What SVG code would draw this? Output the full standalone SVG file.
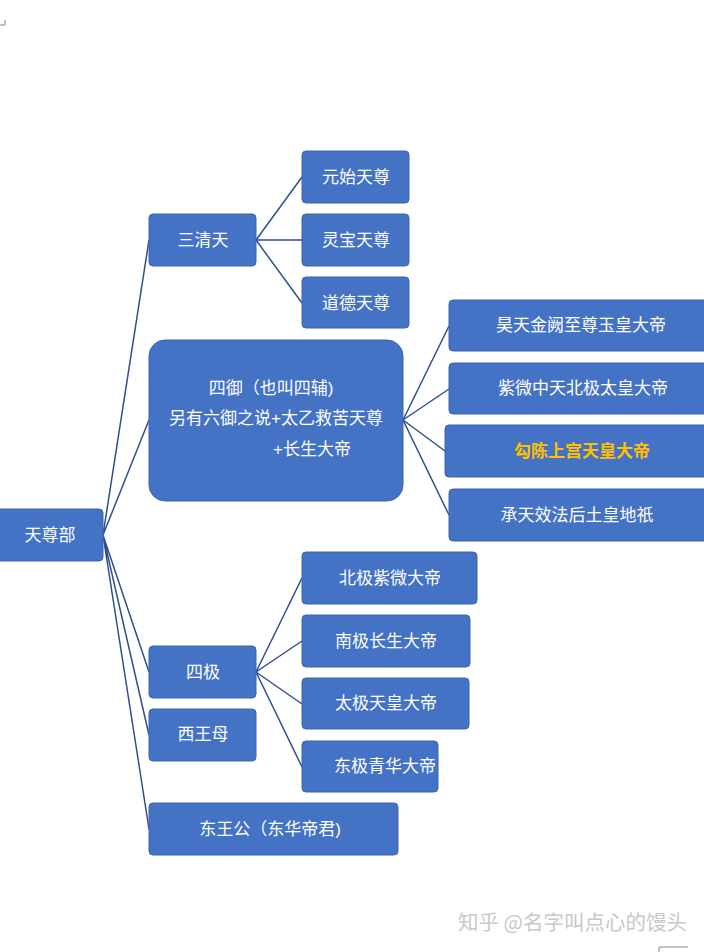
<svg xmlns="http://www.w3.org/2000/svg" width="704" height="952" viewBox="0 0 704 952">
<style>
.n{fill:#4472C4;stroke:#3A64AD;stroke-width:1}
.t{font-family:"Liberation Sans","Noto Sans CJK SC",sans-serif;font-size:17px;fill:#fff;text-anchor:middle;dominant-baseline:central}
.c{stroke:#2F4F8F;stroke-width:1.5;fill:none}
</style>
<rect width="704" height="952" fill="#fff"/>
<g id="connectors">
<path class="c" d="M103 535L149 240M103 535L149 420M103 535L149 672M103 535L149 735M103 535L149 829"/>
<path class="c" d="M256 240L302 177M256 240L302 240M256 240L302 303"/>
<path class="c" d="M403 420L449 326M403 420L449 389M403 420L445 451M403 420L449 515"/>
<path class="c" d="M256 672L302 578M256 672L302 641M256 672L302 704M256 672L302 767"/>
</g>
<g id="n0"><rect class="n" x="-6" y="509" width="109" height="52" rx="4"/><text class="t" x="50" y="535">天尊部</text></g>
<g id="n1"><rect class="n" x="149" y="214" width="107" height="52" rx="4"/><text class="t" x="203" y="240">三清天</text></g>
<g id="n2"><rect class="n" x="302" y="151" width="107" height="52" rx="4"/><text class="t" x="356" y="177">元始天尊</text></g>
<g id="n3"><rect class="n" x="302" y="214" width="107" height="52" rx="4"/><text class="t" x="356" y="240">灵宝天尊</text></g>
<g id="n4"><rect class="n" x="302" y="277" width="107" height="51" rx="4"/><text class="t" x="356" y="303">道德天尊</text></g>
<g id="n5"><rect class="n" x="149" y="340" width="254" height="161" rx="16"/><text class="t" x="271" y="388">四御（也叫四辅)</text><text class="t" x="276" y="418">另有六御之说+太乙救苦天尊</text><text class="t" x="312" y="449">+长生大帝</text></g>
<g id="n6"><rect class="n" x="449" y="300" width="260" height="51" rx="4"/><text class="t" x="581" y="325">昊天金阙至尊玉皇大帝</text></g>
<g id="n7"><rect class="n" x="449" y="363" width="260" height="51" rx="4"/><text class="t" x="583" y="388">紫微中天北极太皇大帝</text></g>
<g id="n8"><rect class="n" x="445" y="425" width="264" height="52" rx="4"/><text class="t" x="582" y="451" style="fill:#FFC000;font-weight:bold">勾陈上宫天皇大帝</text></g>
<g id="n9"><rect class="n" x="449" y="489" width="260" height="52" rx="4"/><text class="t" x="577" y="515">承天效法后土皇地祇</text></g>
<g id="n10"><rect class="n" x="149" y="646" width="107" height="52" rx="4"/><text class="t" x="203" y="672">四极</text></g>
<g id="n11"><rect class="n" x="149" y="709" width="107" height="52" rx="4"/><text class="t" x="203" y="734">西王母</text></g>
<g id="n12"><rect class="n" x="149" y="803" width="249" height="52" rx="4"/><text class="t" x="270" y="829">东王公（东华帝君)</text></g>
<g id="n13"><rect class="n" x="302" y="552" width="175" height="52" rx="4"/><text class="t" x="390" y="578">北极紫微大帝</text></g>
<g id="n14"><rect class="n" x="302" y="615" width="168" height="52" rx="4"/><text class="t" x="386" y="641">南极长生大帝</text></g>
<g id="n15"><rect class="n" x="302" y="678" width="167" height="51" rx="4"/><text class="t" x="386" y="703">太极天皇大帝</text></g>
<g id="n16"><rect class="n" x="302" y="741" width="136" height="51" rx="4"/><text class="t" x="385" y="766">东极青华大帝</text></g>
<text x="458" y="930" style="font-family:'Noto Sans CJK SC',sans-serif;font-size:20.5px;fill:#c8c8c8">知乎 @名字叫点心的馒头</text>
<path d="M0 25H5V20M659 952V947H688" stroke="#888" fill="none"/>
</svg>
